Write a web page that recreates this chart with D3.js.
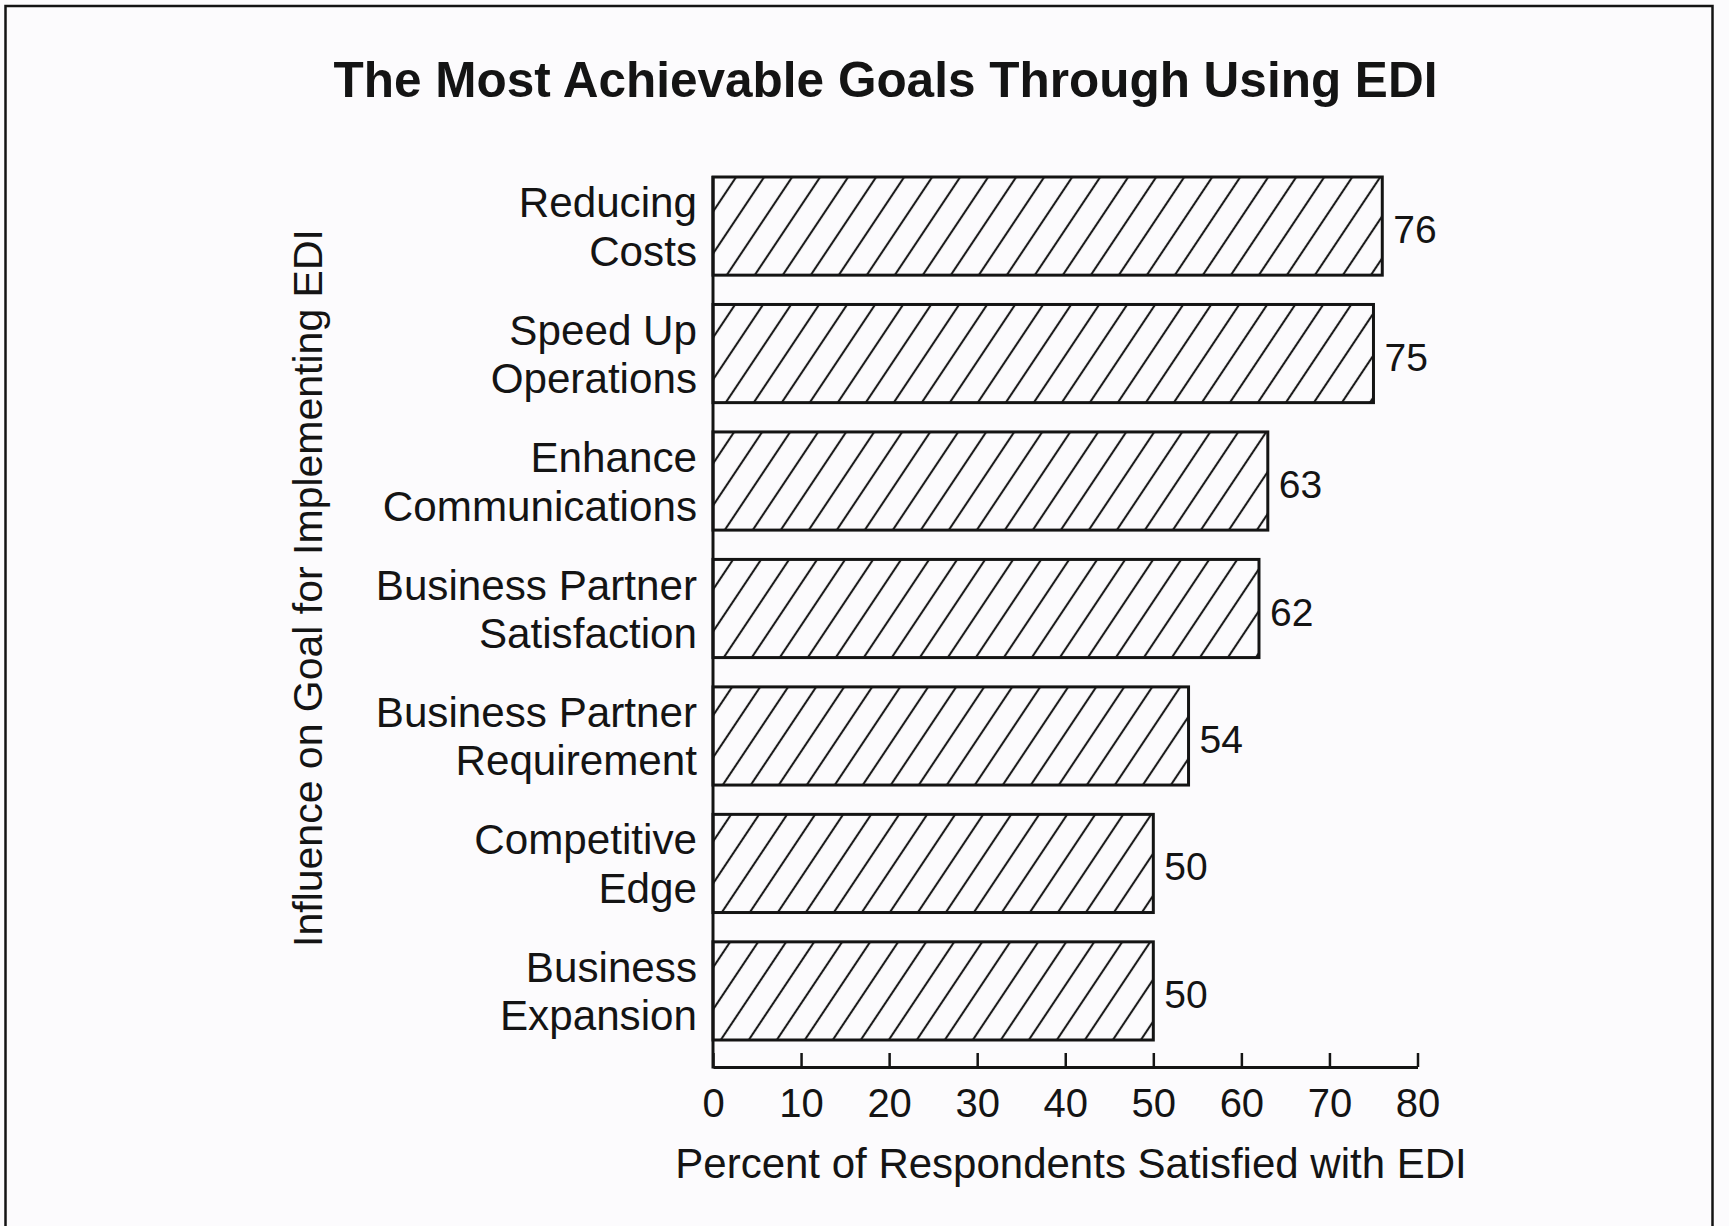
<!DOCTYPE html>
<html>
<head>
<meta charset="utf-8">
<script src="https://cdn.jsdelivr.net/npm/d3@7"></script>
<style>
  html, body { margin: 0; padding: 0; background: #fcfbfd; }
  svg { display: block; }
  text { font-family: "Liberation Sans", Arial, Helvetica, sans-serif; fill: #141414; }
</style>
</head>
<body>
<svg id="chart" width="1729" height="1226"></svg>
<script>
// Goals named by respondents, each split over two label lines
const categoryLines = [
  ["Reducing", "Costs"],
  ["Speed Up", "Operations"],
  ["Enhance", "Communications"],
  ["Business Partner", "Satisfaction"],
  ["Business Partner", "Requirement"],
  ["Competitive", "Edge"],
  ["Business", "Expansion"]
];
const categories = categoryLines.map(d => d.join(" "));
// Percent of respondents satisfied with EDI for each goal
const values = [76, 75, 63, 62, 54, 50, 50];
const xTicks = [0, 10, 20, 30, 40, 50, 60, 70, 80];

const titleText = "The Most Achievable Goals Through Using EDI";
const xTitle = "Percent of Respondents Satisfied with EDI";
const yTitle = "Influence on Goal for Implementing EDI";

const svg = d3.select("#chart");
const ink = "#141414";

// page frame
svg.append("rect")
  .attr("x", 5.5).attr("y", 6).attr("width", 1707).attr("height", 1260)
  .attr("fill", "none").attr("stroke", ink).attr("stroke-width", 2.5);

// diagonal hatch fill
const defs = svg.append("defs");
const pat = defs.append("pattern")
  .attr("id", "hatch")
  .attr("patternUnits", "userSpaceOnUse")
  .attr("width", 23.3).attr("height", 20)
  .attr("patternTransform", "rotate(33.7)");
pat.append("line")
  .attr("x1", 11.65).attr("y1", -2).attr("x2", 11.65).attr("y2", 22)
  .attr("stroke", "#1a1a1a").attr("stroke-width", 2.1);

// scales
const axisY = 1067;
const x = d3.scaleLinear().domain([0, 80]).range([713, 1417.5]);
const y = d3.scaleBand().domain(categories).range([177, 1040])
  .paddingInner(0.23).paddingOuter(0);

// title
svg.append("text")
  .attr("x", 885.5).attr("y", 97)
  .attr("text-anchor", "middle")
  .style("font-weight", "bold").style("font-size", "49.5px")
  .text(titleText);

// bars
svg.append("g").selectAll("rect")
  .data(values)
  .join("rect")
  .attr("x", x(0))
  .attr("y", (d, i) => y(categories[i]))
  .attr("width", d => x(d) - x(0))
  .attr("height", y.bandwidth())
  .attr("fill", "url(#hatch)")
  .attr("stroke", ink).attr("stroke-width", 3);

// value labels
svg.append("g").selectAll("text")
  .data(values)
  .join("text")
  .attr("x", d => x(d) + 11)
  .attr("y", (d, i) => y(categories[i]) + y.bandwidth() / 2 + 17)
  .style("font-size", "39px")
  .text(d => d);

// category labels, right aligned in two lines
const catG = svg.append("g").selectAll("text")
  .data(categoryLines)
  .join("text")
  .attr("text-anchor", "end")
  .style("font-size", "42.2px");
catG.selectAll("tspan")
  .data((d, i) => d.map((s, j) => ({ s, j, i })))
  .join("tspan")
  .attr("x", 697)
  .attr("y", d => y(categories[d.i]) + y.bandwidth() / 2 - 9 + d.j * 48.5)
  .text(d => d.s);

// left axis line
svg.append("line")
  .attr("x1", x(0)).attr("x2", x(0))
  .attr("y1", y.range()[0] - 1).attr("y2", axisY + 1.5)
  .attr("stroke", ink).attr("stroke-width", 3);

// bottom axis with inward ticks
const xAxis = d3.axisBottom(x)
  .tickValues(xTicks)
  .tickSizeInner(-14)
  .tickSizeOuter(0)
  .tickPadding(22);
const ax = svg.append("g")
  .attr("transform", `translate(0,${axisY})`)
  .call(xAxis);
ax.select(".domain").attr("stroke", ink).attr("stroke-width", 3);
ax.selectAll(".tick line").attr("stroke", ink).attr("stroke-width", 2.5);
ax.selectAll(".tick text")
  .style("font-size", "40px")
  .style("font-family", "'Liberation Sans', Arial, sans-serif")
  .attr("fill", ink);

// axis titles
svg.append("text")
  .attr("x", 1071).attr("y", 1178)
  .attr("text-anchor", "middle")
  .style("font-size", "42px")
  .text(xTitle);

svg.append("text")
  .attr("transform", "translate(322,588) rotate(-90)")
  .attr("text-anchor", "middle")
  .style("font-size", "41px")
  .text(yTitle);
</script>
</body>
</html>
